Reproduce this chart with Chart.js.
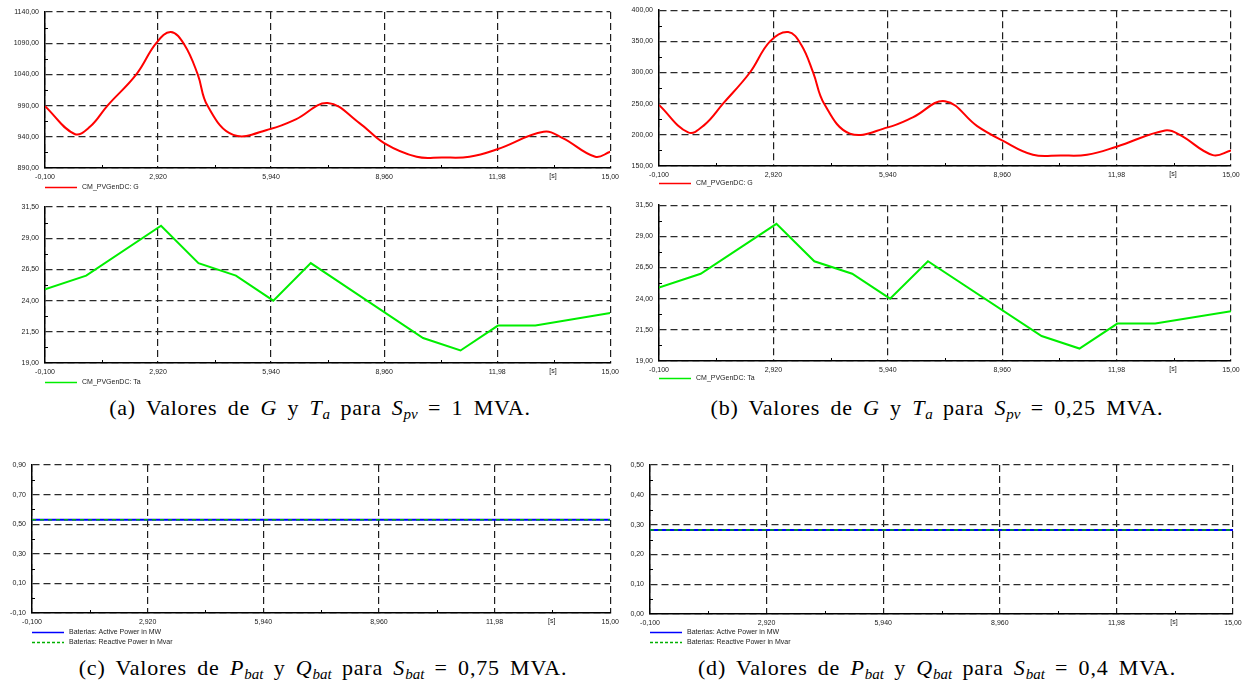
<!DOCTYPE html>
<html>
<head>
<meta charset="utf-8">
<script src="https://cdn.jsdelivr.net/npm/chart.js@4"></script>
<style>
  body { margin: 0; background: #fff; width: 1248px; height: 688px; position: relative; overflow: hidden; }
  canvas { position: absolute; }
  .cap { position: absolute; font-family: "Liberation Serif", "DejaVu Serif", serif; font-size: 22px;
         letter-spacing: 0.8px; word-spacing: 4px;
         white-space: nowrap; transform: translateX(-50%); color: #000; }
  .cap i { font-style: italic; }
  .cap sub { font-size: 15px; vertical-align: -4px; line-height: 0; letter-spacing: 0; }
</style>
</head>
<body>
<canvas id="gA" width="624" height="200" style="left:0;top:0"></canvas>
<canvas id="gC" width="624" height="200" style="left:624px;top:0"></canvas>
<canvas id="tB" width="624" height="200" style="left:0;top:195px"></canvas>
<canvas id="tD" width="624" height="200" style="left:624px;top:195px"></canvas>
<canvas id="bE" width="624" height="200" style="left:0;top:450px"></canvas>
<canvas id="bF" width="624" height="200" style="left:624px;top:450px"></canvas>

<div class="cap" style="left:320px;top:395px">(a) Valores de <i>G</i> y <i>T<sub>a</sub></i> para <i>S<sub>pv</sub></i> = 1 MVA.</div>
<div class="cap" style="left:937px;top:395px">(b) Valores de <i>G</i> y <i>T<sub>a</sub></i> para <i>S<sub>pv</sub></i> = 0,25 MVA.</div>
<div class="cap" style="left:323px;top:655px">(c) Valores de <i>P<sub>bat</sub></i> y <i>Q<sub>bat</sub></i> para <i>S<sub>bat</sub></i> = 0,75 MVA.</div>
<div class="cap" style="left:937px;top:655px">(d) Valores de <i>P<sub>bat</sub></i> y <i>Q<sub>bat</sub></i> para <i>S<sub>bat</sub></i> = 0,4 MVA.</div>

<script>
// time axis (s)
const timeTicks = [-0.1, 2.92, 5.94, 8.96, 11.98, 15.0];
const timeTickLabels = ["-0,100", "2,920", "5,940", "8,960", "11,98", "15,00"];

// irradiance G, S_pv = 1 MVA
const gTime1 = [-0.1, 0.69, 1.1, 1.57, 2.34, 2.87, 3.26, 3.62, 3.98, 4.24, 4.93, 5.94, 6.6, 7.45, 8.3, 8.96, 9.83, 10.5, 11.24, 11.98, 13.22, 13.73, 14.6, 15.0];
const gValues1 = [989, 944.5, 956, 990, 1040, 1090, 1108, 1088, 1040, 990, 943, 953, 968, 994, 962, 930, 908, 907, 908, 920, 948, 938, 908, 916];
const gTicks1 = [890, 940, 990, 1040, 1090, 1140];

// irradiance G, S_pv = 0,25 MVA
const gTime2 = [-0.1, 0.67, 1.1, 1.59, 2.3, 2.83, 3.31, 3.65, 3.97, 4.26, 4.94, 5.94, 6.6, 7.45, 8.3, 8.96, 9.77, 10.5, 11.2, 11.98, 13.26, 13.65, 14.52, 15.0];
const gValues2 = [248, 204, 216, 250, 300, 350, 365, 345, 300, 250, 202, 212, 228, 254, 214, 191, 168, 167, 168, 181, 207, 200, 167.5, 175];
const gTicks2 = [150, 200, 250, 300, 350, 400];

// ambient temperature Ta
const taTime = [-0.1, 1, 3, 4, 5, 6, 7, 10, 11, 12, 13, 15];
const taValues = [24.9, 26, 30, 27, 26, 24, 27, 21, 20, 22, 22, 23];
const taTicks = [19, 21.5, 24, 26.5, 29, 31.5];

// battery powers
const batTime = [-0.1, 15.0];
const pBat1 = [0.53, 0.53];
const qBat1 = [0.53, 0.53];
const batTicks1 = [-0.1, 0.1, 0.3, 0.5, 0.7, 0.9];
const pBat2 = [0.282, 0.282];
const qBat2 = [0.282, 0.282];
const batTicks2 = [0, 0.1, 0.2, 0.3, 0.4, 0.5];

const FONT = 'Liberation Sans';
const pts = (xs, ys) => xs.map((x, i) => ({ x: x, y: ys[i] }));
const fmt2 = v => v.toFixed(2).replace('.', ',').replace('-0,00', '0,00');

// minor ticks, unit label and legend under the plot
const extras = {
  id: 'extras',
  afterDraw(chart, args, o) {
    const ctx = chart.ctx, a = chart.chartArea;
    const xs = chart.scales.x, ys = chart.scales.y;
    ctx.save();
    ctx.strokeStyle = '#000';
    ctx.lineWidth = 1;
    ctx.beginPath();
    const xv = xs.ticks.map(t => xs.getPixelForValue(t.value));
    for (let i = 0; i < xv.length - 1; i++) {
      const m = Math.round((xv[i] + xv[i + 1]) / 2) + 0.5;
      ctx.moveTo(m, a.bottom); ctx.lineTo(m, a.bottom - 3);
    }
    const yv = ys.ticks.map(t => ys.getPixelForValue(t.value));
    for (let i = 0; i < yv.length - 1; i++) {
      const m = Math.round((yv[i] + yv[i + 1]) / 2) + 0.5;
      ctx.moveTo(a.left, m); ctx.lineTo(a.left + 3, m);
    }
    ctx.stroke();

    ctx.font = '7px "' + FONT + '"';
    ctx.fillStyle = '#222';
    ctx.textAlign = 'center';
    ctx.textBaseline = 'middle';
    ctx.fillText('[s]', xs.getPixelForValue(o.unitAt), a.bottom + 8);

    ctx.textAlign = 'left';
    chart.data.datasets.forEach((ds, i) => {
      const y = Math.round(a.bottom + o.legendY + i * 10) + 0.5;
      ctx.strokeStyle = ds.borderColor;
      ctx.lineWidth = 1.5;
      ctx.setLineDash(ds.borderDash ? [3, 2] : []);
      ctx.beginPath();
      ctx.moveTo(a.left, y); ctx.lineTo(a.left + 32, y);
      ctx.stroke();
      ctx.setLineDash([]);
      ctx.fillText(ds.label, a.left + 37, y);
    });
    ctx.restore();
  }
};

function makeChart(id, datasets, yMin, yMax, yTicks, geo) {
  const tickFont = { family: FONT, size: 7 };
  return new Chart(document.getElementById(id), {
    type: 'line',
    data: { datasets: datasets },
    options: {
      responsive: false,
      animation: false,
      layout: { padding: { top: geo.top, right: geo.right, left: 0, bottom: 0 } },
      plugins: { legend: { display: false }, tooltip: { enabled: false }, extras: { legendY: geo.legendY, unitAt: 13.47 } },
      elements: { point: { radius: 0 } },
      scales: {
        x: {
          type: 'linear', min: timeTicks[0], max: timeTicks[timeTicks.length - 1],
          afterBuildTicks: s => { s.ticks = timeTicks.map(v => ({ value: v })); },
          afterFit: s => { s.height = geo.xh; },
          ticks: { font: tickFont, color: '#222', padding: 5, maxRotation: 0, autoSkip: false,
                   callback: (v, i) => timeTickLabels[i] },
          grid: { color: '#1e1e1e', lineWidth: 1.2, drawTicks: false },
          border: { display: true, color: '#000', width: 1.5, dash: [7, 4] }
        },
        y: {
          min: yMin, max: yMax,
          afterBuildTicks: s => { s.ticks = yTicks.map(v => ({ value: v })); },
          afterFit: s => { s.width = geo.yw; },
          ticks: { font: tickFont, color: '#222', padding: 6, autoSkip: false, callback: v => fmt2(v) },
          grid: { color: '#2a2a2a', lineWidth: 1.2, drawTicks: false },
          border: { display: true, color: '#000', width: 1.5, dash: [7, 4] }
        }
      }
    },
    plugins: [extras]
  });
}

const gLine = (label, xs, ys) => ({ label: label, data: pts(xs, ys), borderColor: '#ff0000', borderWidth: 2, tension: 0.4 });
const taLine = () => ({ label: 'CM_PVGenDC: Ta', data: pts(taTime, taValues), borderColor: '#00ee00', borderWidth: 2, tension: 0 });
const batLines = (p, q) => [
  { label: 'Baterias: Active Power in MW', data: pts(batTime, p), borderColor: '#0000ff', borderWidth: 2, order: 1 },
  { label: 'Baterias: Reactive Power in Mvar', data: pts(batTime, q), borderColor: '#00b000', borderWidth: 1.5, borderDash: [4, 4], order: 0 }
];

makeChart('gA', [gLine('CM_PVGenDC: G', gTime1, gValues1)], 890, 1140, gTicks1, { top: 12, right: 9, yw: 45, xh: 32, legendY: 19 });
makeChart('gC', [gLine('CM_PVGenDC: G', gTime2, gValues2)], 150, 400, gTicks2, { top: 9, right: 17, yw: 35, xh: 34, legendY: 17 });
makeChart('tB', [taLine()], 19, 31.5, taTicks, { top: 12, right: 9, yw: 45, xh: 32, legendY: 19 });
makeChart('tD', [taLine()], 19, 31.5, taTicks, { top: 10, right: 17, yw: 35, xh: 34, legendY: 17 });
makeChart('bE', batLines(pBat1, qBat1), -0.1, 0.9, batTicks1, { top: 15, right: 9, yw: 32, xh: 37, legendY: 19 });
makeChart('bF', batLines(pBat2, qBat2), 0, 0.5, batTicks2, { top: 15, right: 15, yw: 26, xh: 36, legendY: 18 });
</script>
</body>
</html>
